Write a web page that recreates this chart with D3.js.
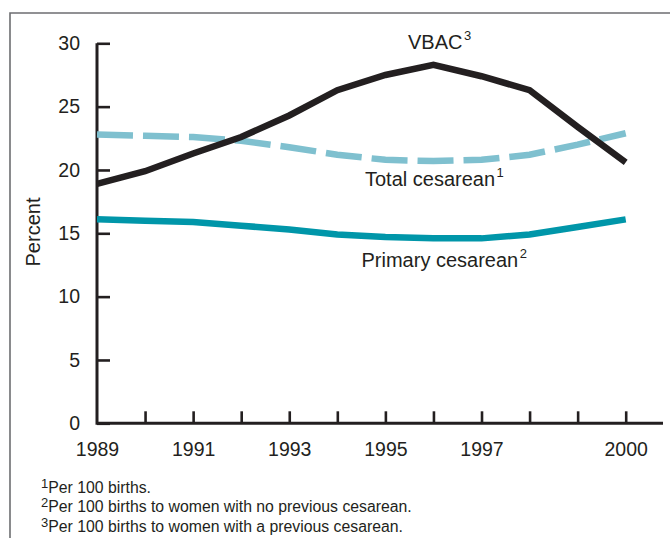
<!DOCTYPE html>
<html>
<head>
<meta charset="utf-8">
<script src="https://cdn.jsdelivr.net/npm/d3@7"></script>
<style>
  html, body { margin: 0; padding: 0; background: #fff; }
  svg { display: block; font-family: "Liberation Sans", Arial, Helvetica, sans-serif; }
</style>
</head>
<body>
<svg id="chart" width="670" height="538"></svg>
<script>
const years = [1989, 1990, 1991, 1992, 1993, 1994, 1995, 1996, 1997, 1998, 1999, 2000];
const vbac = [18.9, 19.9, 21.3, 22.6, 24.3, 26.3, 27.5, 28.3, 27.4, 26.3, 23.4, 20.6];
const totalCesarean = [22.8, 22.7, 22.6, 22.3, 21.8, 21.2, 20.8, 20.7, 20.8, 21.2, 22.0, 22.9];
const primaryCesarean = [16.1, 16.0, 15.9, 15.6, 15.3, 14.9, 14.7, 14.6, 14.6, 14.9, 15.5, 16.1];
const yTicks = [0, 5, 10, 15, 20, 25, 30];
const xLabelYears = [1989, 1991, 1993, 1995, 1997, 2000];
const footnotes = [
  ["1", "Per 100 births."],
  ["2", "Per 100 births to women with no previous cesarean."],
  ["3", "Per 100 births to women with a previous cesarean."]
];

const svg = d3.select("#chart");
const pLeft = 97, pRight = 625.7, pTop = 43.3, pBottom = 423.3;
const x = d3.scaleLinear().domain([1989, 2000]).range([pLeft, pRight]);
const y = d3.scaleLinear().domain([0, 30]).range([pBottom, pTop]);

// frame
svg.append("path")
  .attr("d", "M10,538 V13 H670")
  .attr("fill", "none").attr("stroke", "#6d6e71").attr("stroke-width", 1.6);

// y axis
const yAxis = svg.append("g").attr("transform", `translate(${pLeft},0)`)
  .call(d3.axisLeft(y).tickValues(yTicks).tickSize(-13).tickPadding(17).tickSizeOuter(0));
yAxis.select(".domain").remove();
yAxis.selectAll(".tick line").attr("stroke", "#231f20").attr("stroke-width", 2.6);
yAxis.selectAll(".tick text").attr("font-size", 19.5).attr("fill", "#231f20")
  .attr("font-family", "Liberation Sans, Arial, sans-serif");

// x axis
const xAxis = svg.append("g").attr("transform", `translate(0,${pBottom})`)
  .call(d3.axisBottom(x).tickValues(years).tickSize(-12).tickPadding(18.5)
    .tickFormat(d => xLabelYears.includes(d) ? String(d) : ""));
xAxis.select(".domain").remove();
xAxis.selectAll(".tick line").attr("stroke", "#231f20").attr("stroke-width", 2.6)
  .filter(d => d === 1989).remove();
xAxis.selectAll(".tick text").attr("font-size", 19.5).attr("fill", "#231f20")
  .attr("font-family", "Liberation Sans, Arial, sans-serif");

// axis lines
svg.append("path")
  .attr("d", `M${pLeft},${pTop} V${pBottom} H663`)
  .attr("fill", "none").attr("stroke", "#231f20").attr("stroke-width", 3)
  .attr("stroke-linejoin", "miter");

// y label
svg.append("text")
  .attr("transform", `translate(40,232) rotate(-90)`)
  .attr("text-anchor", "middle").attr("font-size", 20).attr("fill", "#231f20")
  .text("Percent");

// lines
const line = vals => d3.line().x((d, i) => x(years[i])).y(d => y(d))(vals);

svg.append("path").attr("d", line(primaryCesarean))
  .attr("fill", "none").attr("stroke", "#0096a9").attr("stroke-width", 6.5);

svg.append("path").attr("d", line(totalCesarean))
  .attr("fill", "none").attr("stroke", "#7fc0cf").attr("stroke-width", 6.5)
  .attr("stroke-dasharray", "36,10");

svg.append("path").attr("d", line(vbac))
  .attr("fill", "none").attr("stroke", "#231f20").attr("stroke-width", 6.5)
  .attr("stroke-linejoin", "miter");

// series labels
function label(xp, yp, txt, sup) {
  const t = svg.append("text").attr("x", xp).attr("y", yp)
    .attr("font-size", 20).attr("fill", "#231f20");
  t.append("tspan").text(txt);
  t.append("tspan").attr("font-size", 13).attr("dx", 1.5).attr("dy", -9).text(sup);
}
label(408, 49, "VBAC", "3");
label(365, 186, "Total cesarean", "1");
label(361.5, 267, "Primary cesarean", "2");

// footnotes
footnotes.forEach((f, i) => {
  const t = svg.append("text").attr("x", 41).attr("y", 492.5 + i * 19.5)
    .attr("font-size", 15.8).attr("fill", "#231f20");
  t.append("tspan").attr("font-size", 13).attr("dy", -5).text(f[0]);
  t.append("tspan").attr("dy", 5).attr("dx", 0).text(f[1]);
});
</script>
</body>
</html>
